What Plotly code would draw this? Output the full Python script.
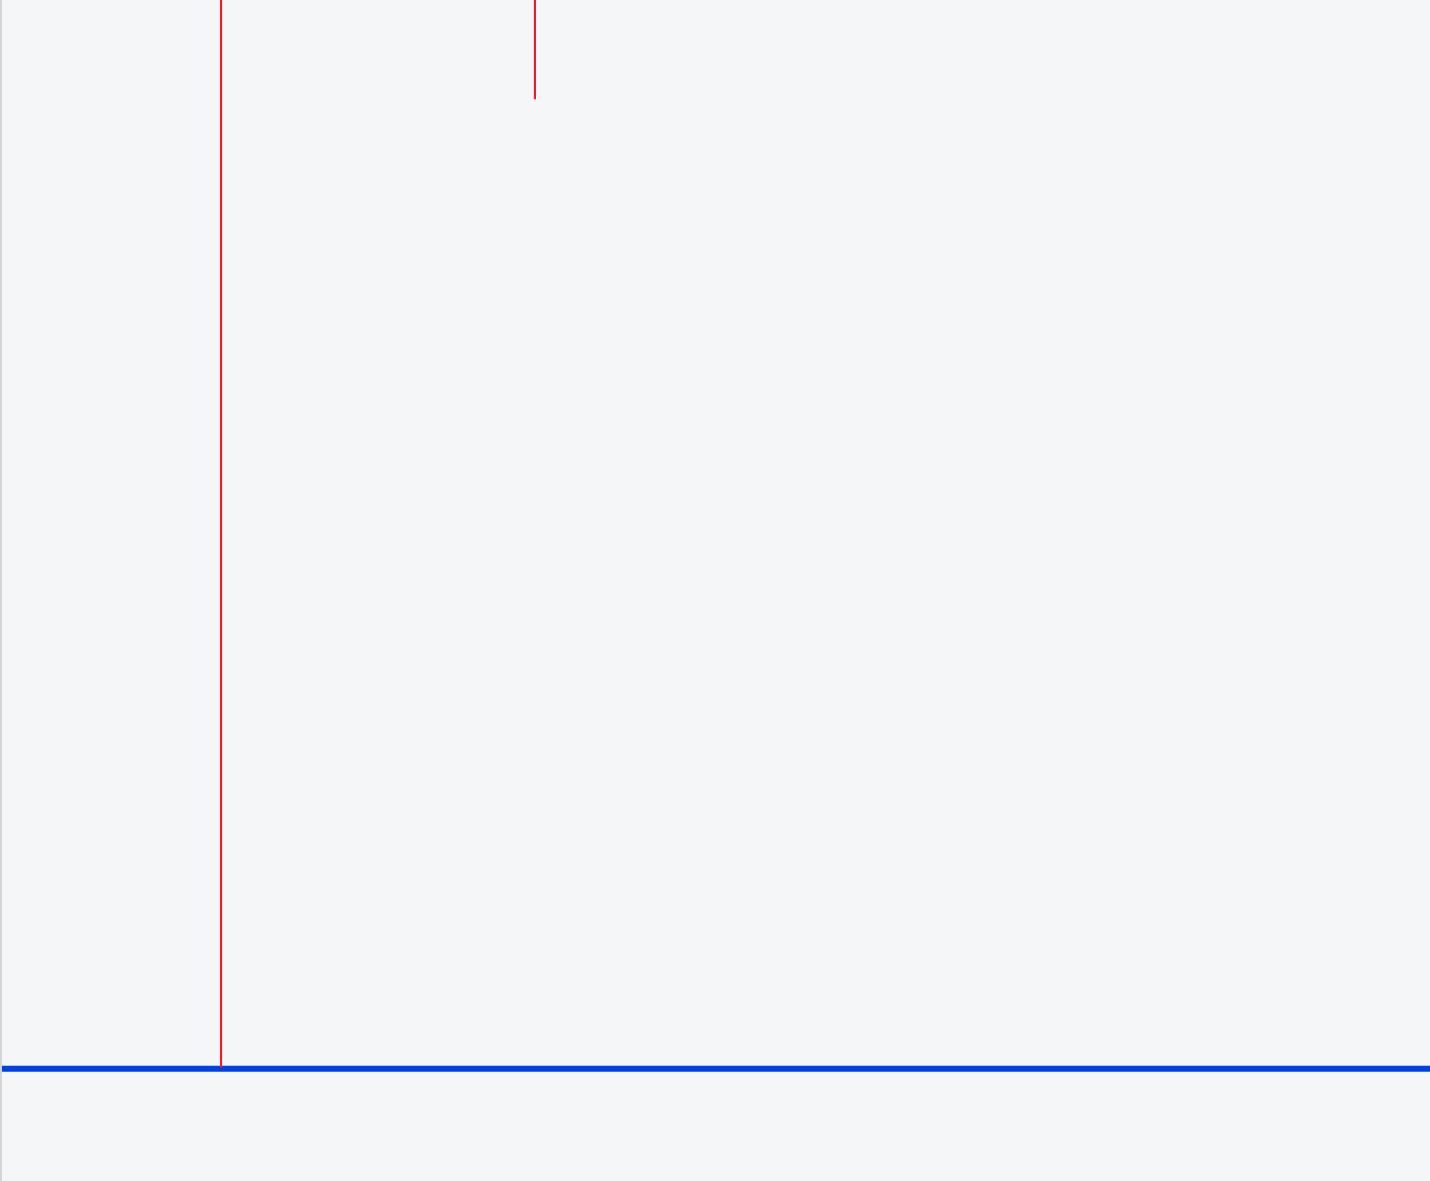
import plotly.graph_objects as go

# Data (axis units 0-100)
baseline_x = [0, 100]
baseline_y = [9.5, 9.5]

spike_x = [15.34, 37.32]
spike_low = [9.6, 91.6]
spike_high = [110, 110]

fig = go.Figure()

fig.add_trace(go.Scatter(
    x=baseline_x, y=baseline_y, mode="lines",
    line=dict(color="#0041e6", width=6), showlegend=False, hoverinfo="skip"))

for xv, lo, hi in zip(spike_x, spike_low, spike_high):
    fig.add_trace(go.Scatter(
        x=[xv, xv], y=[lo, hi], mode="lines",
        line=dict(color="#e0232d", width=2.2), showlegend=False, hoverinfo="skip"))

fig.update_layout(
    width=1430, height=1181,
    margin=dict(l=2, r=0, t=0, b=0),
    paper_bgcolor="#f5f6f8", plot_bgcolor="#f5f6f8",
    xaxis=dict(range=[0, 100], visible=False, fixedrange=True),
    yaxis=dict(range=[0, 100], showgrid=False, zeroline=False, showticklabels=False,
               showline=True, linecolor="#d2d4d9", linewidth=2, fixedrange=True),
)

fig.write_html(
    "out.html",
    config={"displayModeBar": False},
    post_script="document.body.style.margin='0';document.body.style.background='#f5f6f8';",
)
